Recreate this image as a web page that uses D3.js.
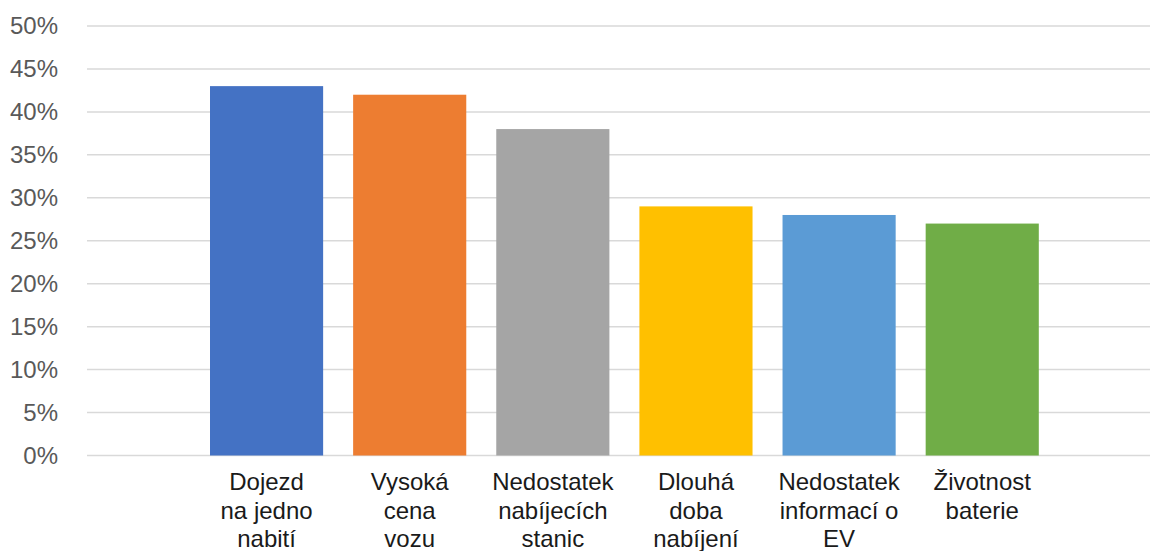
<!DOCTYPE html>
<html>
<head>
<meta charset="utf-8">
<script src="https://cdn.jsdelivr.net/npm/d3@7"></script>
<style>
  html, body { margin: 0; padding: 0; background: #fff; }
  svg { display: block; }
</style>
</head>
<body>
<svg id="chart" width="1150" height="551"></svg>
<script>
// Barriers to EV adoption, share of respondents
const categories = [
  ["Dojezd", "na jedno", "nabití"],
  ["Vysoká", "cena", "vozu"],
  ["Nedostatek", "nabíjecích", "stanic"],
  ["Dlouhá", "doba", "nabíjení"],
  ["Nedostatek", "informací o", "EV"],
  ["Životnost", "baterie"]
];
const values = [0.43, 0.42, 0.38, 0.29, 0.28, 0.27];
const colors = ["#4472C4", "#ED7D31", "#A5A5A5", "#FFC000", "#5B9BD5", "#70AD47"];
const yTicks = [0, 0.05, 0.10, 0.15, 0.20, 0.25, 0.30, 0.35, 0.40, 0.45, 0.50];

const svg = d3.select("#chart");
const font = "'Liberation Sans', Arial, sans-serif";

const gridLeft = 87, gridRight = 1150;
const y = d3.scaleLinear().domain([0, 0.5]).range([455.5, 26]);
const keys = categories.map((c, i) => i);
const x = d3.scaleBand().domain(keys).range([195, 1053.8])
  .paddingInner(0.2096).paddingOuter(0.1048);

// horizontal gridlines
svg.append("g").selectAll("line").data(yTicks).join("line")
  .attr("x1", gridLeft).attr("x2", gridRight)
  .attr("y1", d => y(d)).attr("y2", d => y(d))
  .attr("stroke", "#d9d9d9").attr("stroke-width", 1.5);

// y axis labels
const yAxis = d3.axisLeft(y).tickValues(yTicks).tickSize(0).tickPadding(0)
  .tickFormat(d3.format(".0%"));
const gy = svg.append("g").attr("transform", "translate(58,0)").call(yAxis);
gy.select(".domain").remove();
gy.selectAll("text")
  .attr("fill", "#595959").attr("font-size", 24).attr("font-family", font);

// bars
svg.append("g").selectAll("rect").data(values).join("rect")
  .attr("x", (d, i) => x(i))
  .attr("width", x.bandwidth())
  .attr("y", d => y(d))
  .attr("height", d => y(0) - y(d))
  .attr("fill", (d, i) => colors[i]);

// category labels
const labels = svg.append("g").selectAll("text").data(categories).join("text")
  .attr("text-anchor", "middle")
  .attr("font-family", font).attr("font-size", 24).attr("fill", "#1a1a1a")
  .attr("x", (d, i) => x(i) + x.bandwidth() / 2)
  .attr("y", 490);
labels.selectAll("tspan").data(d => d).join("tspan")
  .attr("x", function () { return this.parentNode.getAttribute("x"); })
  .attr("dy", (d, j) => j === 0 ? 0 : 28.5)
  .text(d => d);
</script>
</body>
</html>
